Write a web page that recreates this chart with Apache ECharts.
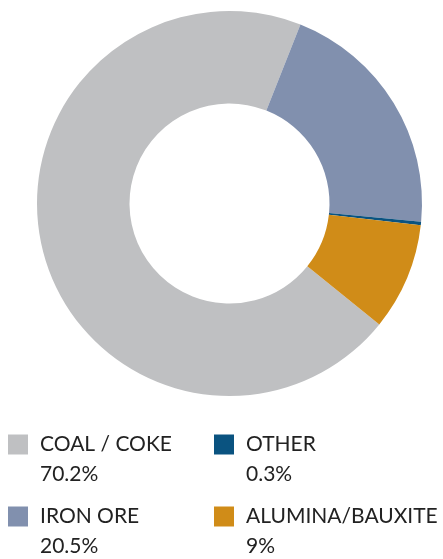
<!DOCTYPE html>
<html>
<head>
<meta charset="utf-8">
<script src="https://cdn.jsdelivr.net/npm/echarts@6/dist/echarts.min.js"></script>
<style>
  html, body { margin: 0; padding: 0; background: #fff; }
  #main { width: 443px; height: 559px; }
</style>
</head>
<body>
<div id="main"></div>
<script>
// data
const categories = ['COAL / COKE', 'IRON ORE', 'OTHER', 'ALUMINA/BAUXITE'];
const shares = [70.2, 20.5, 0.3, 9];
const shareLabels = ['70.2%', '20.5%', '0.3%', '9%'];
const colors = ['#bfc0c2', '#8190ae', '#0a5380', '#d08c18'];

// legend slots: [left, top] for each category
const legendSlots = [[8, 404], [8, 476], [214, 404], [214, 476]];

window.onload = function () {
  const chartDom = document.getElementById('main');
  const myChart = echarts.init(chartDom);

  const pieData = categories.map(function (name, i) {
    return { name: name, value: shares[i], itemStyle: { color: colors[i] } };
  });

  const legends = categories.map(function (name, i) {
    return {
      data: [name],
      left: legendSlots[i][0],
      top: legendSlots[i][1],
      padding: 0,
      orient: 'vertical',
      icon: 'rect',
      itemWidth: 20,
      itemHeight: 20,
      selectedMode: false,
      formatter: function (n) {
        return '{e|}\n{n|' + n + '}\n{p|' + shareLabels[categories.indexOf(n)] + '}';
      },
      textStyle: {
        fontFamily: 'Lato',
        fontSize: 21,
        color: '#222',
        rich: {
          e: { lineHeight: 30, fontSize: 21 },
          n: { lineHeight: 30, fontSize: 21, fontFamily: 'Lato', color: '#222', padding: [0, 0, 0, 7] },
          p: { lineHeight: 30, fontSize: 21, fontFamily: 'Lato', color: '#222', padding: [0, 0, 0, 7] }
        }
      }
    };
  });

  const option = {
    animation: false,
    legend: legends,
    series: [{
      type: 'pie',
      center: [229.5, 203.5],
      radius: [100, 192.5],
      startAngle: -38.9,
      clockwise: true,
      label: { show: false },
      labelLine: { show: false },
      emphasis: { disabled: true },
      itemStyle: { borderWidth: 0 },
      data: pieData
    }]
  };
  option && myChart.setOption(option);
};
</script>
</body>
</html>
